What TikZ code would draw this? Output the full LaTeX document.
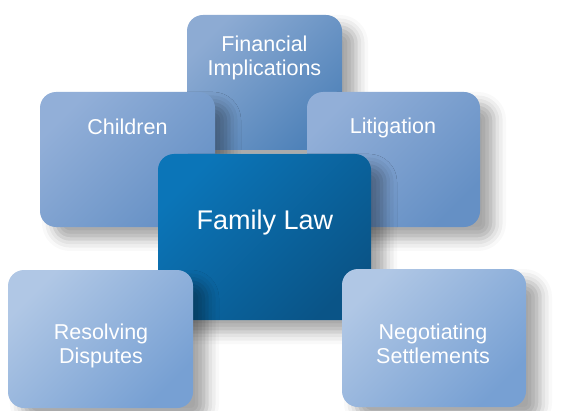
\documentclass[tikz,border=0pt]{standalone}
\usepackage{fontspec}
\setmainfont{Liberation Sans}
\usetikzlibrary{shadows.blur}
\definecolor{lightA}{HTML}{B0C7E5}
\definecolor{lightB}{HTML}{77A0D3}
\definecolor{midA}{HTML}{92AFD8}
\definecolor{midB}{HTML}{6590C5}
\definecolor{finA}{HTML}{8DABD3}
\definecolor{finB}{HTML}{4F82B9}
\definecolor{darkA}{HTML}{0B75B8}
\definecolor{darkB}{HTML}{0A5487}
\tikzset{
  boxbase/.style={rectangle, rounded corners=16pt, inner sep=0pt, draw=none,
    shading angle=45,
    blur shadow={shadow xshift=14pt, shadow yshift=-12pt, shadow blur radius=12pt, shadow opacity=35}},
  lightbox/.style={boxbase, top color=lightA, bottom color=lightB, shading angle=45},
  midbox/.style={boxbase, top color=midA, bottom color=midB, shading angle=45},
  finbox/.style={boxbase, top color=finA, bottom color=finB, shading angle=45},
  darkbox/.style={boxbase, top color=darkA, bottom color=darkB, shading angle=45},
  lbl/.style={text=white, align=center, inner sep=0pt, font=\fontsize{21.5}{24}\selectfont},
  biglbl/.style={text=white, align=center, inner sep=0pt, font=\fontsize{27}{30}\selectfont}
}
\begin{document}
\begin{tikzpicture}[x=1pt,y=1pt]
\useasboundingbox (0,0) rectangle (564,410);
\node[finbox, minimum width=155pt, minimum height=135pt] (fin) at (264.5,327.5) {};
\node[lbl] (finl) at (264.5,352) {Financial\\Implications};
\node[midbox, minimum width=175pt, minimum height=135pt] (chi) at (127.5,250.5) {};
\node[lbl] (chil) at (127.5,283) {Children};
\node[midbox, minimum width=173pt, minimum height=135pt] (lit) at (393.5,250.5) {};
\node[lbl] (litl) at (393,282) {Litigation};
\node[darkbox, minimum width=213pt, minimum height=166pt] (fam) at (264.5,173) {};
\node[biglbl] (faml) at (265,187) {Family Law};
\node[lightbox, minimum width=185pt, minimum height=138pt] (res) at (100.5,71) {};
\node[lbl] (resl) at (101,64) {Resolving\\Disputes};
\node[lightbox, minimum width=184pt, minimum height=138pt] (neg) at (434,72) {};
\node[lbl] (negl) at (433,66) {Negotiating\\Settlements};
\end{tikzpicture}
\end{document}
